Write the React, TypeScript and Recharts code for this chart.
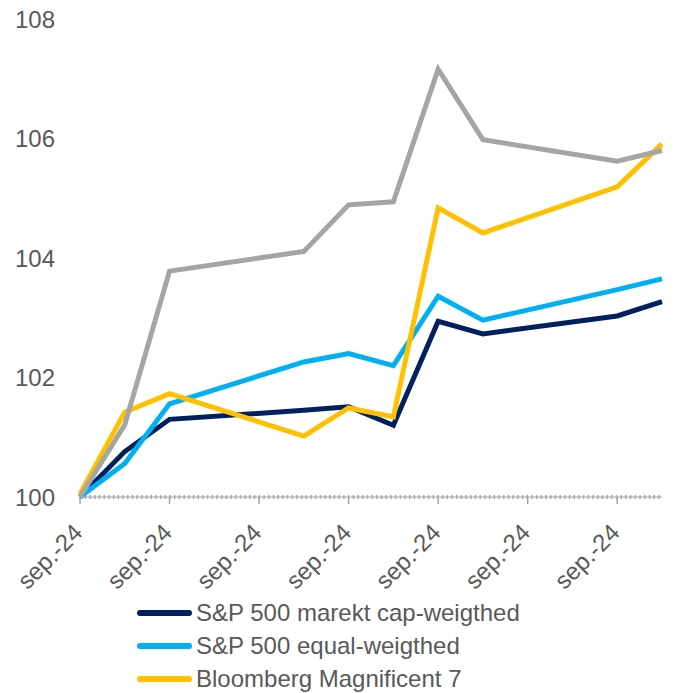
import React from 'react';
import { LineChart, Line, XAxis, YAxis, Legend, ReferenceLine } from 'recharts';

// trading days, counted in calendar days from the first observation
const days = [0, 1, 2, 5, 6, 7, 8, 9, 12, 13];
const capWeighted = [100, 100.76, 101.3, 101.45, 101.51, 101.2, 102.94, 102.73, 103.03, 103.27];
const equalWeighted = [100, 100.56, 101.56, 102.26, 102.4, 102.2, 103.36, 102.96, 103.47, 103.65];
const mag7 = [100.05, 101.42, 101.73, 101.02, 101.49, 101.34, 104.84, 104.42, 105.19, 105.91];
const other = [100, 101.21, 103.78, 104.11, 104.89, 104.94, 107.16, 105.98, 105.62, 105.8];

const xTicks = [0, 2, 4, 6, 8, 10, 12];
const xLabel = 'sep.-24';
const yTicks = [100, 102, 104, 106, 108];

const series = [
  { key: 'cap', name: 'S&P 500 marekt cap-weigthed', color: '#002060', values: capWeighted },
  { key: 'equal', name: 'S&P 500 equal-weigthed', color: '#00B0F0', values: equalWeighted },
  { key: 'mag7', name: 'Bloomberg Magnificent 7', color: '#FFC000', values: mag7 },
];

const data = days.map((d, i) => ({
  d,
  cap: capWeighted[i],
  equal: equalWeighted[i],
  mag7: mag7[i],
  other: other[i],
}));

const font = '"Liberation Sans", Arial, sans-serif';
const textColor = '#595959';
const axisGrey = '#A6A6A6';

const XTick = (props: any) => {
  const { x, y } = props;
  const tx = x + 4;
  const ty = y + 28;
  return (
    <text
      x={tx}
      y={ty}
      textAnchor="end"
      fill={textColor}
      fontSize={24}
      fontFamily={font}
      transform={`rotate(-45 ${tx} ${ty})`}
    >
      {xLabel}
    </text>
  );
};

const renderLegend = () => (
  <div style={{ fontFamily: font, fontSize: 24, color: textColor }}>
    {series.map((s) => (
      <div key={s.key} style={{ display: 'flex', alignItems: 'center', height: 33 }}>
        <div
          style={{
            width: 55,
            height: 6,
            borderRadius: 3,
            background: s.color,
            marginRight: 4,
          }}
        />
        <span style={{ whiteSpace: 'nowrap' }}>{s.name}</span>
      </div>
    ))}
  </div>
);

export default function App() {
  return (
    <div style={{ position: 'absolute', left: 0, top: 0, background: '#fff' }}>
      <LineChart
        width={675}
        height={693}
        data={data}
        margin={{ top: 19, right: 13, bottom: 0, left: 0 }}
      >
        <XAxis
          dataKey="d"
          type="number"
          domain={[0, 13]}
          ticks={xTicks}
          interval={0}
          axisLine={{ stroke: axisGrey, strokeWidth: 1 }}
          tickLine={{ stroke: axisGrey, strokeWidth: 1.5 }}
          tickSize={7}
          tick={<XTick />}
          height={97}
        />
        <YAxis
          domain={[100, 108]}
          ticks={yTicks}
          width={80}
          axisLine={false}
          tickLine={false}
          tickSize={0}
          tickMargin={25}
          tick={{ fill: textColor, fontSize: 24, fontFamily: font }}
        />
        <ReferenceLine y={100} stroke={axisGrey} strokeWidth={4} strokeDasharray="1.5 3.2" />
        {series.map((s) => (
          <Line
            key={s.key}
            dataKey={s.key}
            name={s.name}
            stroke={s.color}
            strokeWidth={5}
            dot={false}
            activeDot={false}
            strokeLinejoin="miter"
            isAnimationActive={false}
          />
        ))}
        <Line
          dataKey="other"
          stroke="#A5A5A5"
          strokeWidth={5}
          dot={false}
          activeDot={false}
          legendType="none"
          isAnimationActive={false}
        />
        <Legend
          content={renderLegend}
          wrapperStyle={{ left: 137, top: 596, width: 'auto', height: 99 }}
        />
      </LineChart>
    </div>
  );
}
